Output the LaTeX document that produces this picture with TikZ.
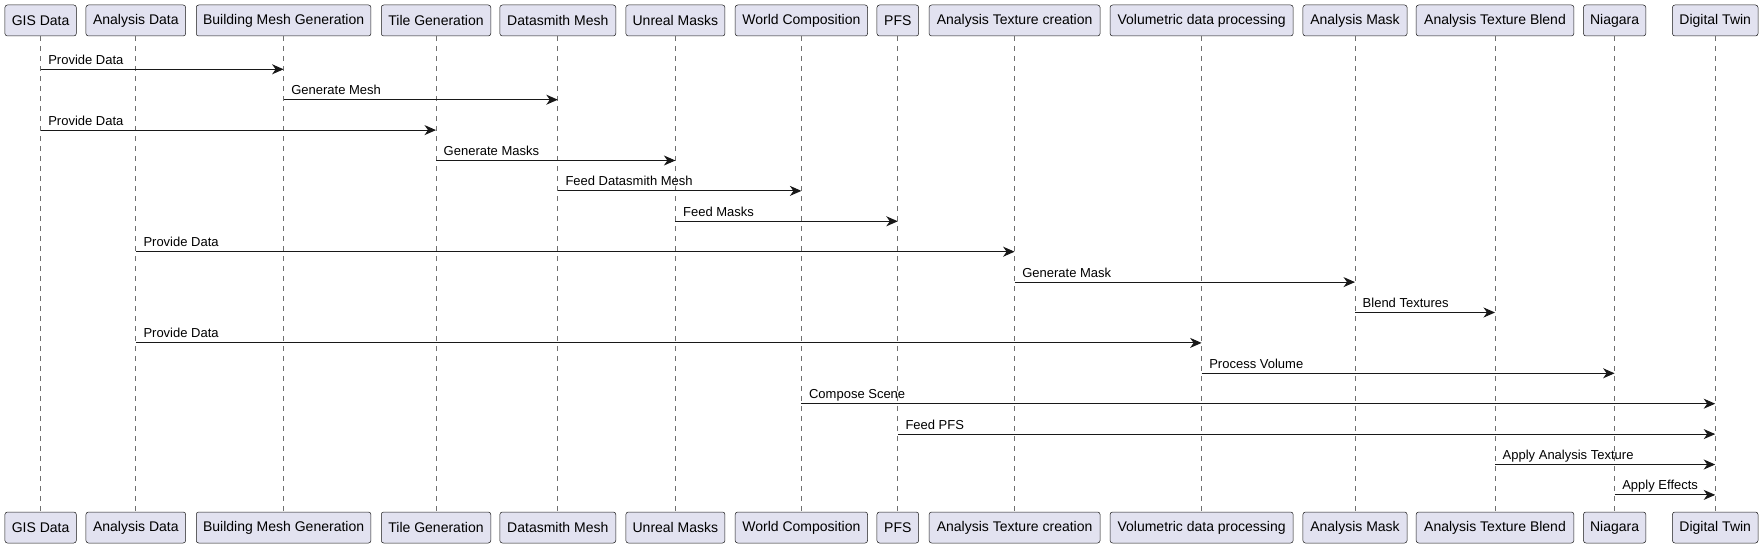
\documentclass[tikz,border=0pt]{standalone}
\usepackage{fontspec}
\setmainfont{Liberation Sans}
\usetikzlibrary{arrows.meta}
\definecolor{boxfill}{HTML}{E2E2F0}
\definecolor{ink}{HTML}{181818}
\definecolor{lifegray}{HTML}{707070}
\begin{document}
\begin{tikzpicture}[x=1pt,y=-1pt,
  part/.style={draw=ink, fill=boxfill, line width=0.5pt, rounded corners=2.5pt, minimum height=31pt, inner sep=0pt, font=\fontsize{14}{16}\selectfont, text=black},
  life/.style={draw=lifegray, line width=0.7pt, dash pattern=on 5pt off 5pt},
  msg/.style={draw=ink, line width=1pt, -{Stealth[length=11.5pt,width=10pt,inset=3.5pt]}},
  lbl/.style={anchor=base west, inner sep=0pt, font=\fontsize{13}{15}\selectfont, text=black}]
\useasboundingbox (0,0) rectangle (1763,548);
\foreach \n/\x/\w/\t in {
  1/40.6/71.4/GIS Data,
  2/135.8/99.7/Analysis Data,
  3/283.6/174.7/Building Mesh Generation,
  4/436/109.5/Tile Generation,
  5/557.8/115.9/Datasmith Mesh,
  6/675.4/99.1/Unreal Masks,
  7/801.4/132.4/World Composition,
  8/897.8/41.7/PFS,
  9/1014.6/171/Analysis Texture creation,
  10/1201.6/183.1/Volumetric data processing,
  11/1355/104.2/Analysis Mask,
  12/1495/157.7/Analysis Texture Blend,
  13/1614.6/62.3/Niagara,
  14/1715.2/85.6/Digital Twin} {
  \node[part, minimum width=\w] (t\n) at (\x,20.5) {\t};
  \node[part, minimum width=\w] (b\n) at (\x,527.5) {\t};
  \draw[life] (t\n.south) -- (b\n.north);
}
\foreach \a/\b/\r/\t in {
  1/3/1/Provide Data,
  3/5/2/Generate Mesh,
  1/4/3/Provide Data,
  4/6/4/Generate Masks,
  5/7/5/Feed Datasmith Mesh,
  6/8/6/Feed Masks,
  2/9/7/Provide Data,
  9/11/8/Generate Mask,
  11/12/9/Blend Textures,
  2/10/10/Provide Data,
  10/13/11/Process Volume,
  7/14/12/Compose Scene,
  8/14/13/Feed PFS,
  12/14/14/Apply Analysis Texture,
  13/14/15/Apply Effects} {
  \pgfmathsetmacro\yy{69.3+(\r-1)*30.4}
  \draw[msg] (t\a |- 0,\yy) -- (t\b |- 0,\yy);
  \path (t\a |- 0,\yy) ++(7.5,-5) node[lbl] (l\r) {\t};
}
\end{tikzpicture}
\end{document}
